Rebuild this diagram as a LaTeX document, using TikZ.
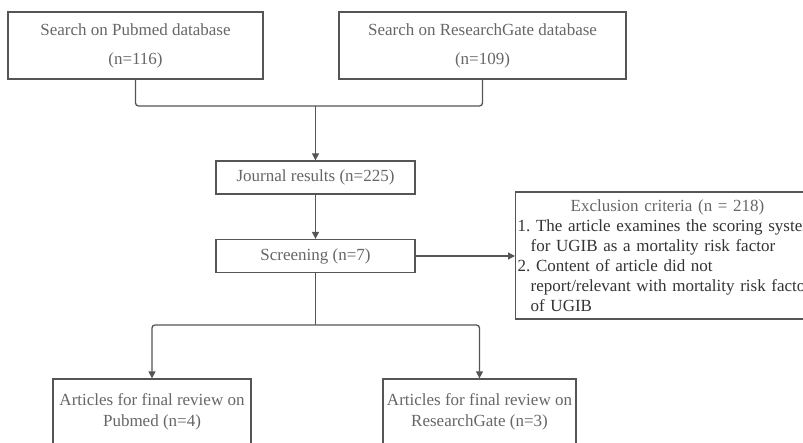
\documentclass[tikz,border=0pt]{standalone}
\usepackage{fontspec}
\setmainfont{Liberation Serif}
\usetikzlibrary{arrows.meta}
\definecolor{boxline}{HTML}{555555}
\definecolor{boxtext}{HTML}{666666}
\definecolor{listtext}{HTML}{333333}
\begin{document}
\begin{tikzpicture}[x=1pt, y=-1pt, line width=1.3pt,
	box/.style={rectangle, draw=boxline, inner sep=0pt, align=center, text=boxtext, font=\fontsize{17}{21}\selectfont},
	dbbox/.style={box, minimum height=67pt, font=\fontsize{17}{29}\selectfont},
	stepbox/.style={box, minimum width=199pt, minimum height=33pt},
	finalbox/.style={box, minimum height=84pt},
	exclbox/.style={box, anchor=west, align=left, text width=320pt, inner xsep=2pt, minimum height=127pt, text=listtext, font=\fontsize{17}{20}\selectfont},
	link/.style={draw=boxline, rounded corners=3pt},
	arrow/.style={link, -{Triangle[length=7pt, width=7pt]}}]
	\useasboundingbox (0,0) rectangle (803,443);

	% search boxes
	\node[dbbox, minimum width=255pt] (pubmed) at (135.5,45.5) {Search on Pubmed database\\(n=116)};
	\node[dbbox, minimum width=287pt] (rgate) at (482.5,45.5) {Search on ResearchGate database\\(n=109)};

	% screening steps
	\node[stepbox] (journal) at (315.5,177.5) {Journal results (n=225)};
	\node[stepbox] (screen) at (315.5,256) {Screening (n=7)};
	\node[exclbox] (excl) at (515,255.5) {\textcolor{boxtext}{\hspace*{53pt}Exclusion criteria (n = 218)}\\
		1.\ The article examines the scoring system\\
		\hspace*{13pt}for UGIB as a mortality risk factor\\
		2.\ Content of article did not\\
		\hspace*{13pt}report/relevant with mortality risk factor\\
		\hspace*{13pt}of UGIB};

	% final review
	\node[finalbox, minimum width=198pt] (pmfinal) at (152,421) {Articles for final review on\\Pubmed (n=4)\\\mbox{}};
	\node[finalbox, minimum width=193pt] (rgfinal) at (479.5,421) {Articles for final review on\\ResearchGate (n=3)\\\mbox{}};

	% connectors
	\coordinate (merge) at (315.5,106);
	\coordinate (split) at (315.5,325);
	\draw[link] (pubmed.south) |- (merge) -| (rgate.south);
	\draw[arrow] (merge) -- (journal.north);
	\draw[arrow] (journal.south) -- (screen.north);
	\draw[arrow] (screen.east) -- (screen.east -| excl.west);
	\draw[link] (screen.south) -- (split);
	\draw[arrow] (split) -| (pmfinal.north);
	\draw[arrow] (split) -| (rgfinal.north);
\end{tikzpicture}
\end{document}
